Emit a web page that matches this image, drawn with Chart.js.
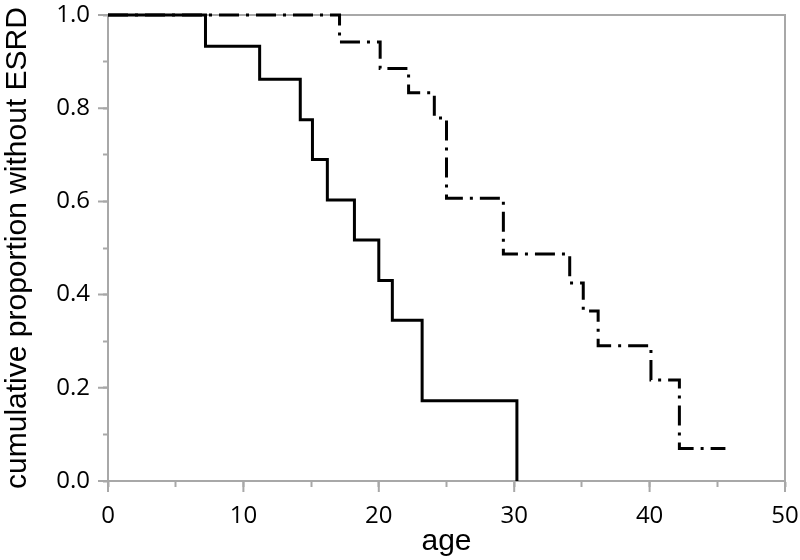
<!DOCTYPE html>
<html>
<head>
<meta charset="utf-8">
<script src="https://cdn.jsdelivr.net/npm/chart.js@4"></script>
<style>
  html, body { margin: 0; padding: 0; background: #fff; }
  #wrap { width: 800px; height: 560px; }
</style>
</head>
<body>
<div id="wrap"><canvas id="kmChart" width="800" height="560"></canvas></div>
<script>
// Kaplan-Meier step points
const solidAge  = [0, 7.2, 11.2, 14.2, 15.1, 16.2, 18.2, 20.0, 21.0, 23.2, 30.2];
const solidSurv = [1.0, 0.933, 0.862, 0.775, 0.69, 0.603, 0.517, 0.43, 0.345, 0.172, 0.0];
const dashAge   = [0, 17.1, 20.1, 22.2, 24.1, 25.0, 29.2, 34.1, 35.1, 36.2, 40.1, 42.2, 45.6];
const dashSurv  = [1.0, 0.942, 0.885, 0.833, 0.779, 0.607, 0.487, 0.425, 0.365, 0.29, 0.217, 0.07, 0.07];

const axisGray = '#a8a8a8';
const toPoints = (xs, ys) => xs.map((x, i) => ({ x: x, y: ys[i] }));

// frame on top/right plus longer ticks at the labelled values (drawn under the curves)
const framePlugin = {
  id: 'frame',
  beforeDatasetsDraw(chart) {
    const { ctx, chartArea: a, scales } = chart;
    ctx.save();
    ctx.strokeStyle = axisGray;
    ctx.lineWidth = 2;
    ctx.beginPath();
    ctx.moveTo(a.left, a.top); ctx.lineTo(a.right, a.top); ctx.lineTo(a.right, a.bottom);
    scales.x.ticks.forEach(t => {
      if (Math.round(t.value) % 10 === 0) {
        const px = scales.x.getPixelForValue(t.value);
        ctx.moveTo(px, a.bottom); ctx.lineTo(px, a.bottom + 11);
      }
    });
    scales.y.ticks.forEach(t => {
      if (Math.round(t.value * 10) % 2 === 0) {
        const py = scales.y.getPixelForValue(t.value);
        ctx.moveTo(a.left - 10, py); ctx.lineTo(a.left, py);
      }
    });
    ctx.stroke();
    ctx.restore();
  }
};

new Chart(document.getElementById('kmChart').getContext('2d'), {
  type: 'line',
  data: {
    datasets: [{
      data: toPoints(solidAge, solidSurv),
      borderColor: '#000',
      borderWidth: 3,
      stepped: 'before',
      pointRadius: 0,
      fill: false,
      clip: false
    }, {
      data: toPoints(dashAge, dashSurv),
      borderColor: '#000',
      borderWidth: 3,
      borderDash: [20, 7, 3, 7],
      stepped: 'before',
      pointRadius: 0,
      fill: false,
      clip: false
    }]
  },
  plugins: [framePlugin],
  options: {
    responsive: false,
    animation: false,
    layout: { padding: { top: 15, right: 15, left: 0, bottom: 0 } },
    plugins: { legend: { display: false }, tooltip: { enabled: false } },
    scales: {
      x: {
        type: 'linear',
        min: 0, max: 50,
        border: { color: axisGray, width: 2 },
        grid: { drawOnChartArea: false, drawTicks: true, tickLength: 6, tickColor: axisGray, tickWidth: 2 },
        ticks: {
          stepSize: 5,
          autoSkip: false,
          maxRotation: 0,
          padding: 15,
          color: '#000',
          font: { family: 'Open Sans', size: 24 },
          callback: v => (v % 10 === 0 ? String(v) : '')
        },
        title: {
          display: true,
          text: 'age',
          color: '#000',
          font: { family: 'Liberation Sans', size: 30 },
          padding: { top: 0, bottom: 0 }
        },
        afterFit: s => { s.height = 79; s.paddingLeft = 0; s.paddingRight = 0; }
      },
      y: {
        min: 0, max: 1,
        border: { color: axisGray, width: 2 },
        grid: { drawOnChartArea: false, drawTicks: true, tickLength: 5, tickColor: axisGray, tickWidth: 2 },
        ticks: {
          stepSize: 0.1,
          autoSkip: false,
          padding: 13,
          color: '#000',
          font: { family: 'Open Sans', size: 24 },
          callback: v => (Math.round(v * 10) % 2 === 0 ? v.toFixed(1) : '')
        },
        title: {
          display: true,
          text: 'cumulative proportion without ESRD',
          color: '#000',
          font: { family: 'Liberation Sans', size: 30 },
          padding: { top: 0, bottom: 0 }
        },
        afterFit: s => { s.width = 108; s.paddingTop = 0; s.paddingBottom = 0; }
      }
    }
  }
});
</script>
</body>
</html>
